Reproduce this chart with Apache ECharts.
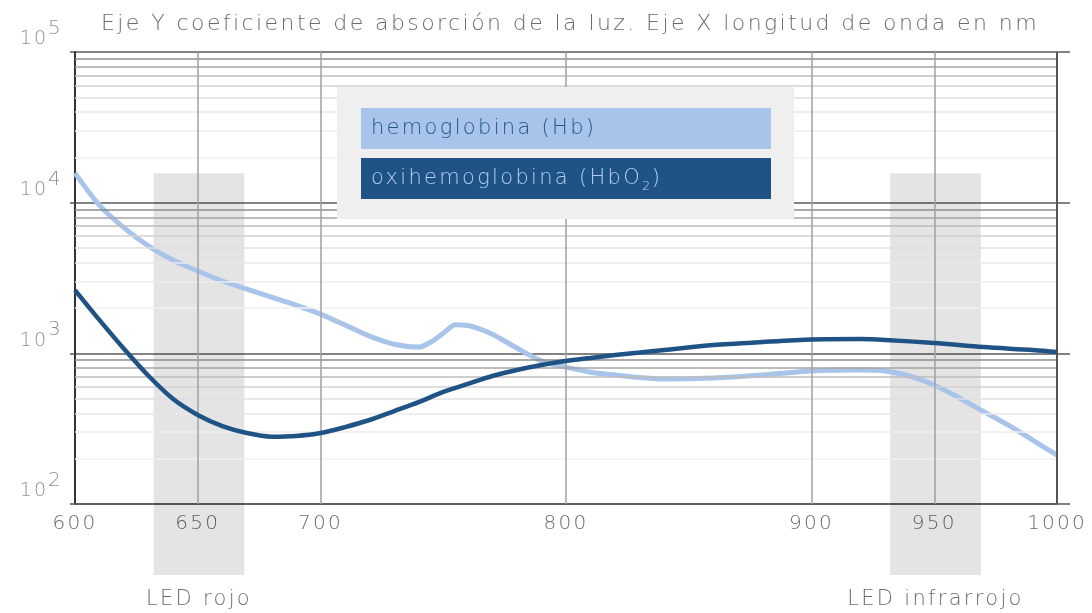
<!DOCTYPE html>
<html>
<head>
<meta charset="utf-8">
<script src="https://cdn.jsdelivr.net/npm/echarts@6/dist/echarts.min.js"></script>
<style>
  html, body { margin: 0; padding: 0; background: #ffffff; }
  #chart { width: 1092px; height: 613px; }
</style>
</head>
<body>
<div id="chart"></div>
<script>
// Wide, airy lettering: give every canvas font a tracking proportional to its size
(function () {
  const proto = CanvasRenderingContext2D.prototype;
  const desc = Object.getOwnPropertyDescriptor(proto, 'font');
  if (!desc || !('letterSpacing' in proto)) return;
  Object.defineProperty(proto, 'font', {
    configurable: true,
    get() { return desc.get.call(this); },
    set(v) {
      desc.set.call(this, v);
      const m = /(\d+(?:\.\d+)?)px/.exec(v);
      this.letterSpacing = m ? (parseFloat(m[1]) * 0.11).toFixed(2) + 'px' : '0px';
    }
  });
})();

// Wavelength axis (nm)
const wavelengthTicks = [600, 650, 700, 800, 900, 950, 1000];
const verticalGrid = [650, 700, 800, 900, 950];
// Absorption axis (log scale) decades and minor multipliers
const decades = [100, 1000, 10000, 100000];
const minorMultipliers = [2, 3, 4, 5, 6, 7, 8, 9];

// Hemoglobin (Hb) absorption coefficient [nm, value]
const hb = [
  [600, 15700], [610, 9600], [620, 6800], [630, 5150], [640, 4150],
  [650, 3520], [660, 3020], [670, 2670], [680, 2360], [690, 2090],
  [700, 1820], [710, 1540], [720, 1300], [730, 1150], [740, 1100],
  [745, 1190], [750, 1360], [755, 1550], [760, 1530], [765, 1450],
  [770, 1340], [780, 1085], [790, 890], [800, 810], [810, 750],
  [820, 718], [830, 691], [840, 675], [860, 686], [880, 718],
  [900, 763], [920, 775], [930, 763], [940, 707], [950, 616],
  [960, 507], [970, 412], [980, 335], [990, 266], [1000, 211]
];

// Oxyhemoglobin (HbO2) absorption coefficient [nm, value]
const hbo2 = [
  [600, 2630], [610, 1660], [620, 1068], [630, 707], [640, 497],
  [650, 390], [660, 329], [670, 296], [680, 280], [690, 283],
  [700, 296], [710, 324], [720, 361], [730, 414], [740, 475],
  [750, 554], [760, 626], [770, 707], [780, 775], [790, 836],
  [800, 889], [810, 931], [820, 974], [830, 1012], [840, 1052],
  [860, 1135], [880, 1189], [900, 1235], [920, 1244], [930, 1227],
  [950, 1171], [970, 1101], [990, 1052], [1000, 1020]
];

// LED emission bands (nm)
const ledBands = [
  { name: 'LED rojo', from: 632, to: 669 },
  { name: 'LED infrarrojo', from: 932, to: 969 }
];
const bandTopValue = 15700;

const titleText = 'Eje Y coeficiente de absorción de la luz. Eje X longitud de onda en nm';
const legendLabels = ['hemoglobina (Hb)', 'oxihemoglobina (HbO', '2', ')'];

const FONT = 'DejaVu Sans';
const WEIGHT = 200;
const TEXT_GRAY = '#6c6c6c';
const HB_COLOR = '#a8c4ea';
const HBO2_COLOR = '#1f5386';

const minorShade = { 9: '#8c8c8c', 8: '#a4a4a4', 7: '#bcbcbc', 6: '#d2d2d2', 5: '#e0e0e0', 4: '#e8e8e8', 3: '#eeeeee', 2: '#f2f2f2' };

const minorLines = [];
decades.slice(0, -1).forEach(d => {
  minorMultipliers.forEach(m => {
    minorLines.push({ yAxis: d * m, lineStyle: { color: minorShade[m], width: 1.5, type: 'solid' } });
  });
});
const vLines = verticalGrid.map(v => ({ xAxis: v, lineStyle: { color: '#a0a0a0', width: 1.5, type: 'solid' } }));
vLines.push({ xAxis: 1000, lineStyle: { color: '#555555', width: 2, type: 'solid' } });

const chart = echarts.init(document.getElementById('chart'), null, { renderer: 'canvas' });

const option = {
  animation: false,
  backgroundColor: '#ffffff',
  title: {
    text: titleText,
    left: 96,
    top: 7,
    textStyle: { fontFamily: FONT, fontSize: 22, fontWeight: WEIGHT, color: TEXT_GRAY }
  },
  grid: { left: 75, right: 35, top: 52, bottom: 109, containLabel: false },
  xAxis: {
    type: 'value',
    min: 600,
    max: 1000,
    interval: 50,
    axisLine: { show: true, lineStyle: { color: '#555555', width: 1.5 } },
    axisTick: { show: false },
    splitLine: { show: false },
    axisLabel: {
      margin: 9,
      fontFamily: FONT,
      fontSize: 20,
      fontWeight: WEIGHT,
      color: TEXT_GRAY,
      formatter: v => (wavelengthTicks.includes(v) ? String(v) : '')
    }
  },
  yAxis: [
    {
      type: 'log',
      logBase: 10,
      min: 100,
      max: 100000,
      axisLine: { show: true, lineStyle: { color: '#333333', width: 2 } },
      axisTick: { show: true, length: 5, lineStyle: { color: '#555555', width: 1.5 } },
      splitLine: { show: true, lineStyle: { color: '#5a5a5a', width: 1.5 } },
      axisLabel: {
        margin: 12,
        verticalAlign: 'bottom',
        formatter: v => '{b|10}{s|' + Math.round(Math.log10(v)) + '}',
        rich: {
          b: { fontFamily: FONT, fontSize: 19, fontWeight: WEIGHT, color: '#909090', verticalAlign: 'bottom', padding: [0, 0, 2, 0] },
          s: { fontFamily: FONT, fontSize: 20, fontWeight: WEIGHT, color: '#909090', verticalAlign: 'bottom', padding: [0, 0, 12, 0] }
        }
      }
    },
    {
      type: 'log',
      logBase: 10,
      min: 100,
      max: 100000,
      position: 'right',
      axisLine: { show: false },
      axisTick: { show: true, length: 13, lineStyle: { color: '#5a5a5a', width: 1.5 } },
      axisLabel: { show: false },
      splitLine: { show: false }
    }
  ],
  series: [
    {
      name: 'grid',
      type: 'line',
      data: [],
      z: 1,
      silent: true,
      markLine: {
        silent: true,
        symbol: ['none', 'none'],
        label: { show: false },
        animation: false,
        data: minorLines.concat(vLines)
      }
    },
    {
      name: 'hemoglobina (Hb)',
      type: 'line',
      data: hb,
      smooth: 0.3,
      showSymbol: false,
      z: 4,
      lineStyle: { color: HB_COLOR, width: 5 }
    },
    {
      name: 'oxihemoglobina (HbO2)',
      type: 'line',
      data: hbo2,
      smooth: 0.3,
      showSymbol: false,
      z: 5,
      lineStyle: { color: HBO2_COLOR, width: 4.5 }
    }
  ]
};

chart.setOption(option);

// LED bands and legend panel, positioned with the chart's own scales
const axisBottom = chart.convertToPixel({ yAxisIndex: 0 }, 100);
const bandTop = chart.convertToPixel({ yAxisIndex: 0 }, bandTopValue);
const graphics = [];
ledBands.forEach(b => {
  const x0 = chart.convertToPixel({ xAxisIndex: 0 }, b.from);
  const x1 = chart.convertToPixel({ xAxisIndex: 0 }, b.to);
  graphics.push({
    type: 'rect',
    z: 3,
    silent: true,
    shape: { x: x0, y: bandTop, width: x1 - x0, height: axisBottom + 71 - bandTop },
    style: { fill: 'rgba(0,0,0,0.105)' }
  });
  graphics.push({
    type: 'text',
    z: 3,
    silent: true,
    x: (x0 + x1) / 2,
    y: axisBottom + 96,
    style: {
      text: b.name,
      fontFamily: FONT,
      fontSize: 21,
      fontWeight: WEIGHT,
      fill: TEXT_GRAY,
      align: 'center',
      verticalAlign: 'middle'
    }
  });
});

// Legend panel
graphics.push({
  type: 'group',
  z: 20,
  silent: true,
  children: [
    { type: 'rect', z: 20, shape: { x: 337, y: 87, width: 457, height: 132 }, style: { fill: '#efefef' } },
    { type: 'rect', z: 21, shape: { x: 361, y: 108, width: 410, height: 41 }, style: { fill: HB_COLOR } },
    { type: 'rect', z: 21, shape: { x: 361, y: 158, width: 410, height: 41 }, style: { fill: HBO2_COLOR } },
    {
      type: 'text', z: 22, x: 371, y: 129,
      style: { text: legendLabels[0], fontFamily: FONT, fontSize: 21, fontWeight: WEIGHT, fill: '#24568a', verticalAlign: 'middle' }
    },
    {
      type: 'text', z: 22, x: 371, y: 179,
      style: {
        text: '{t|' + legendLabels[1] + '}{u|' + legendLabels[2] + '}{t|' + legendLabels[3] + '}',
        verticalAlign: 'middle',
        rich: {
          t: { fontFamily: FONT, fontSize: 21, fontWeight: WEIGHT, fill: '#b4cdee', verticalAlign: 'middle' },
          u: { fontFamily: FONT, fontSize: 13, fontWeight: WEIGHT, fill: '#b4cdee', verticalAlign: 'top', padding: [15, 0, 0, 0] }
        }
      }
    }
  ]
});

chart.setOption({ graphic: graphics });
</script>
</body>
</html>
